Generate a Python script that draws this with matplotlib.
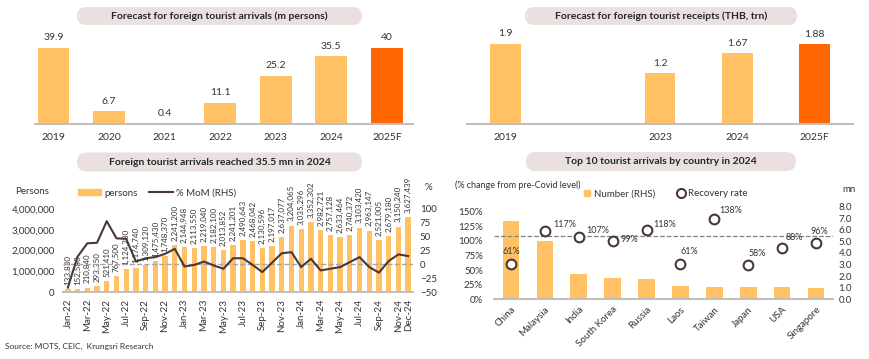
import numpy as np
import matplotlib
matplotlib.use("Agg")
import matplotlib.pyplot as plt
from matplotlib.patches import FancyBboxPatch, Patch
from matplotlib.lines import Line2D
from matplotlib.ticker import FuncFormatter
from matplotlib.transforms import Affine2D

plt.rcParams['font.family'] = ['Lato', 'DejaVu Sans']

# --- data ---
arr_years = ['2019', '2020', '2021', '2022', '2023', '2024', '2025F']
arr_values = [39.9, 6.7, 0.4, 11.1, 25.2, 35.5, 40]
arr_labels = ['39.9', '6.7', '0.4', '11.1', '25.2', '35.5', '40']

rec_years = ['2019', '', '2023', '2024', '2025F']
rec_values = [1.9, 0, 1.2, 1.67, 1.88]
rec_labels = ['1.9', '', '1.2', '1.67', '1.88']

month_labels = [m + '-' + y for y in ['22', '23', '24']
                for m in ['Jan', 'Feb', 'Mar', 'Apr', 'May', 'Jun',
                          'Jul', 'Aug', 'Sep', 'Oct', 'Nov', 'Dec']]
arrivals = [133830, 152580, 210840, 293350, 521410, 767500,
            1124230, 1174740, 1309120, 1475430, 1748370, 2241200,
            2144948, 2113550, 2219040, 2182100, 2013852, 2241201,
            2490643, 2468042, 2130596, 2197017, 2637077, 3204065,
            3035296, 3352302, 2982721, 2757128, 2633464, 2740372,
            3103420, 2963147, 2521005, 2679180, 3150240, 3627439]
mom = [-42, 14, 38, 39, 78, 47, 46, 5, 11, 13, 19, 28,
       -4, -1, 5, -2, -8, 11, 11, -1, -14, 3, 20, 22,
       -5, 10, -11, -8, -5, 4, 13, -5, -15, 6, 18, 15]

countries = ['China', 'Malaysia', 'India', 'South Korea', 'Russia',
             'Laos', 'Taiwan', 'Japan', 'USA', 'Singapore']
country_mn = [6.8, 5.0, 2.15, 1.86, 1.75, 1.15, 1.09, 1.04, 1.02, 0.98]
recovery = [61, 117, 107, 99, 118, 61, 138, 58, 88, 96]
recovery_ref = 109

# label placement (pixels from the marker) for the recovery-rate labels
label_offsets = [(-8, 12), (8, 6), (8, 6), (8, 2), (7, 6),
                 (0, 12), (5, 8), (0, 12), (3, 10), (-6, 12)]

LIGHT = '#FFC163'
DARK = '#FF6600'
LINE = '#4A3838'
TXT = '#333333'
GRID = '#BFBFBF'

W, H = 870, 359
fig = plt.figure(figsize=(W / 100, H / 100), dpi=100)
px = Affine2D().scale(1 / 100) + fig.dpi_scale_trans


def rect(x0, y_top, x1, y_bot):
    return [x0 / W, 1 - y_bot / H, (x1 - x0) / W, (y_bot - y_top) / H]


def pill(cx, cy, w, h, text):
    p = FancyBboxPatch((cx - w / 2, H - cy - h / 2), w, h,
                       boxstyle="round,pad=0,rounding_size=%g" % (h / 2),
                       fc='#EAE0E0', ec='none', transform=px)
    fig.add_artist(p)
    fig.text(cx / W, 1 - cy / H, text, ha='center', va='center',
             fontsize=7.5, fontweight='bold', color='#262626')


def clean(ax):
    for s in ['top', 'right', 'left']:
        ax.spines[s].set_visible(False)
    ax.spines['bottom'].set_color(GRID)
    ax.spines['bottom'].set_linewidth(1.5)
    ax.patch.set_alpha(0)


# --- top left: arrivals forecast ---
ax1 = fig.add_axes(rect(35, 38, 413, 124.3))
x = np.arange(len(arr_years))
ax1.bar(x, arr_values, width=0.57, color=[LIGHT] * 6 + [DARK])
for xi, v, lab in zip(x, arr_values, arr_labels):
    ax1.annotate(lab, (xi, v), xytext=(0, 4), textcoords='offset points',
                 ha='center', va='bottom', fontsize=7.5, color=TXT)
ax1.set_xlim(-0.33, 6.47)
ax1.set_ylim(0, 45)
ax1.set_xticks(x, arr_years)
ax1.set_yticks([])
ax1.tick_params(axis='x', length=0, pad=6, labelsize=7.5, labelcolor=TXT)
clean(ax1)
pill(219.5, 16, 285, 18, 'Forecast for foreign tourist arrivals (m persons)')

# --- top right: receipts forecast ---
ax2 = fig.add_axes(rect(467, 35, 853, 124.3))
x = np.arange(len(rec_years))
ax2.bar(x, rec_values, width=0.4, color=[LIGHT] * 4 + [DARK])
for xi, v, lab in zip(x, rec_values, rec_labels):
    ax2.annotate(lab, (xi, v), xytext=(0, 4), textcoords='offset points',
                 ha='center', va='bottom', fontsize=7.5, color=TXT)
ax2.set_xlim(-0.5, 4.5)
ax2.set_ylim(0, 2.1)
ax2.set_xticks(x, rec_years)
ax2.set_yticks([])
ax2.tick_params(axis='x', length=0, pad=6, labelsize=7.5, labelcolor=TXT)
clean(ax2)
pill(661, 16, 272, 18, 'Forecast for foreign tourist receipts (THB, trn)')

# --- bottom left: monthly arrivals ---
ax3 = fig.add_axes(rect(63, 209, 413, 292))
xm = np.arange(len(arrivals))
ax3.bar(xm, arrivals, width=0.55, color=LIGHT)
for xi, v in zip(xm, arrivals):
    ax3.annotate(f'{v:,}', (xi, v), xytext=(0, 3), textcoords='offset points',
                 rotation=90, ha='center', va='bottom', fontsize=5.8, color=TXT)
ax3.set_xlim(-0.5, 35.5)
ax3.set_ylim(0, 4e6)
ax3.set_yticks(np.arange(0, 4e6 + 1, 1e6))
ax3.yaxis.set_major_formatter(FuncFormatter(lambda v, p: f'{v:,.0f}'))
ticks = list(range(0, 36, 2)) + [35]
ax3.set_xticks(ticks, [month_labels[i] for i in ticks], rotation=90)
ax3.tick_params(axis='x', length=0, pad=5, labelsize=7, labelcolor=TXT)
ax3.tick_params(axis='y', length=0, pad=6, labelsize=7, labelcolor=TXT)
clean(ax3)

ax3b = ax3.twinx()
ax3b.axhline(0, color='#A6A6A6', ls='--', lw=1)
ax3b.plot(xm, mom, color=LINE, lw=1.5)
ax3b.set_ylim(-50, 100)
ax3b.set_yticks(range(-50, 101, 25))
ax3b.tick_params(axis='y', length=0, pad=5, labelsize=7, labelcolor=TXT)
for s in ax3b.spines.values():
    s.set_visible(False)
ax3b.legend([Patch(color=LIGHT), Line2D([], [], color=LINE, lw=1.5)],
            ['persons', '% MoM (RHS)'], loc='center left',
            bbox_to_anchor=(78 / W, 1 - 193 / H), bbox_transform=fig.transFigure,
            ncol=2, frameon=False, fontsize=7, handlelength=2.4, handleheight=0.5,
            columnspacing=1.2, borderaxespad=0, borderpad=0, handletextpad=0.3,
            labelcolor=TXT)
fig.text(15 / W, 1 - 191 / H, 'Persons', fontsize=7, va='center', color=TXT)
fig.text(425 / W, 1 - 188 / H, '%', fontsize=7, va='center', color=TXT)
pill(219.5, 162, 285, 19, 'Foreign tourist arrivals reached 35.5 mn in 2024')

# --- bottom right: top 10 countries ---
ax4 = fig.add_axes(rect(494, 206.7, 833, 299.3))
xc = np.arange(len(countries))
ax4.bar(xc, country_mn, width=0.49, color=LIGHT)
ax4.set_xlim(-0.5, 9.5)
ax4.set_ylim(0, 8)
ax4.set_yticks(np.arange(0, 8.1, 1))
ax4.yaxis.set_major_formatter(FuncFormatter(lambda v, p: f'{v:.1f}'))
ax4.set_xticks(xc, countries, rotation=45, ha='right', rotation_mode='anchor')
ax4.tick_params(axis='x', length=0, pad=4, labelsize=7, labelcolor=TXT)
clean(ax4)

# recovery rate on a twin, drawn above the bars, with its axis on the left
ax4p = ax4.twinx()
ax4.yaxis.tick_right()
ax4.tick_params(axis='y', length=0, pad=4, labelsize=7, labelcolor=TXT)
ax4p.yaxis.tick_left()
ax4p.axhline(recovery_ref, color='#808080', ls='--', lw=0.9)
ax4p.plot(xc, recovery, ls='none', marker='o', ms=7, mfc='white',
          mec=LINE, mew=1.5)
for xi, v, off in zip(xc, recovery, label_offsets):
    ax4p.annotate(f'{v}%', (xi, v), xytext=off, textcoords='offset pixels',
                  ha='left', va='center', fontsize=6.5, color=TXT)
ax4p.set_ylim(0, 158.5)
ax4p.set_yticks(range(0, 151, 25))
ax4p.yaxis.set_major_formatter(FuncFormatter(lambda v, p: f'{v:.0f}%'))
ax4p.tick_params(axis='y', length=0, pad=8, labelsize=7, labelcolor=TXT)
for s in ax4p.spines.values():
    s.set_visible(False)
ax4p.legend([Line2D([], [], marker='s', ls='none', color=LIGHT, ms=5),
             Line2D([], [], marker='o', ls='none', mfc='white', mec=LINE, mew=1.5, ms=6.5)],
            ['Number (RHS)', 'Recovery rate'], loc='center left',
            bbox_to_anchor=(582 / W, 1 - 194 / H), bbox_transform=fig.transFigure,
            ncol=2, frameon=False, fontsize=7, handlelength=1.0,
            columnspacing=2.2, borderaxespad=0, borderpad=0, handletextpad=0.2,
            labelcolor=TXT)
fig.text(455 / W, 1 - 185 / H, '(% change from pre-Covid level)', fontsize=6.5,
         va='center', color=TXT)
fig.text(842 / W, 1 - 189 / H, 'mn', fontsize=7, va='center', color=TXT)
pill(661, 161.5, 270, 19, 'Top 10 tourist arrivals by country in 2024')

fig.text(5 / W, 1 - 346 / H, 'Source: MOTS, CEIC,  Krungsri Research',
         fontsize=6, va='center', color=TXT)

fig.savefig('out.png', dpi=100)
